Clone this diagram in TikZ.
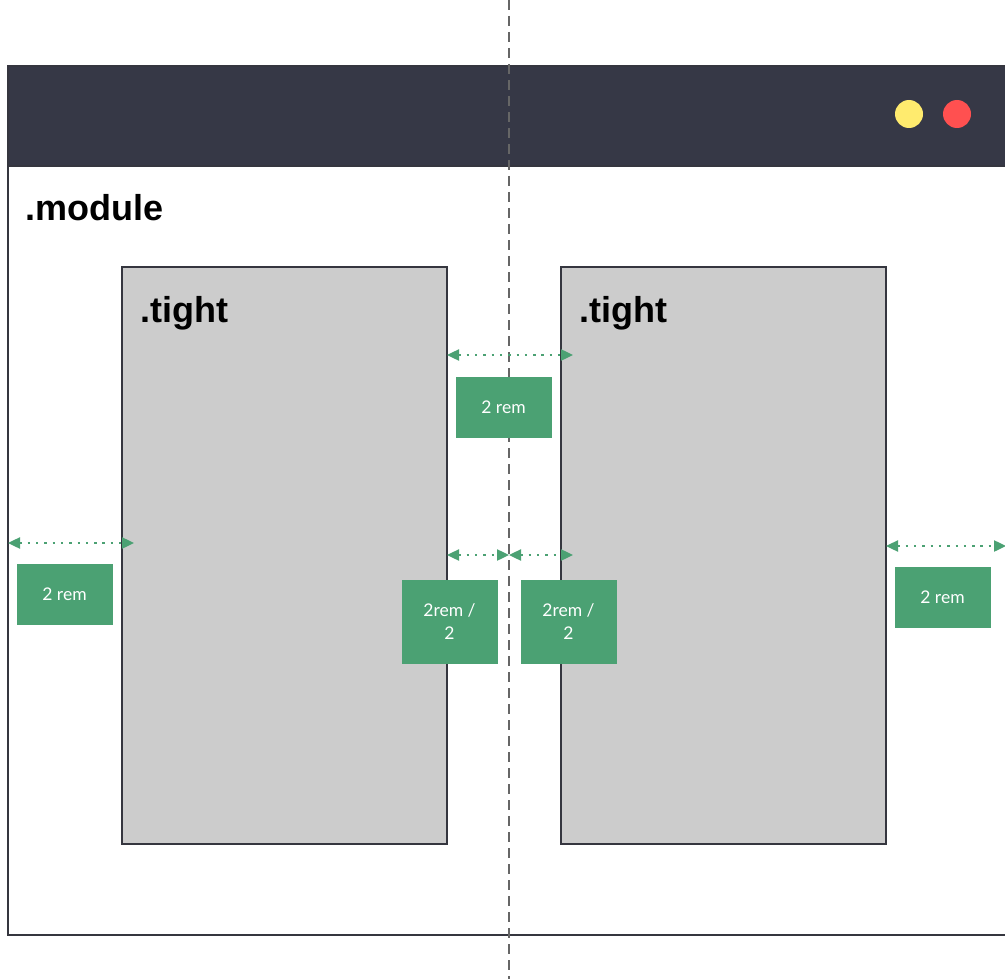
\documentclass[tikz,border=0pt]{standalone}
\usepackage{fontspec}
\setmainfont{Liberation Sans}
\newfontfamily\labelfont{Lato}
\usetikzlibrary{arrows.meta}
\definecolor{frameline}{HTML}{35363F}
\definecolor{titlebar}{HTML}{363846}
\definecolor{panel}{HTML}{CCCCCC}
\definecolor{gapgreen}{HTML}{4BA173}
\definecolor{dotyellow}{HTML}{FFEB6E}
\definecolor{dotred}{HTML}{FF5050}
\definecolor{guide}{HTML}{666666}
\tikzset{
  panelbox/.style={draw=frameline, line width=1.5pt, fill=panel, minimum width=325pt, minimum height=577pt, inner sep=0pt, outer sep=0pt},
  tag/.style={fill=gapgreen, text=white, font=\labelfont\fontsize{17.5}{23}\selectfont, minimum width=96pt, inner sep=0pt, align=center},
  gap/.style={draw=gapgreen, line width=2.4pt, dash pattern=on 2.4pt off 5.9pt, line cap=butt,
    {Triangle[length=12pt,width=11pt]}-{Triangle[length=12pt,width=11pt]}},
  heading/.style={font=\bfseries\fontsize{36}{40}\selectfont, anchor=base west, inner sep=0pt},
  winbtn/.style={circle, minimum size=28pt, inner sep=0pt},
}
\begin{document}
\begin{tikzpicture}[x=1pt,y=-1pt]
\useasboundingbox (0,0) rectangle (1005,979);
\clip (0,0) rectangle (1005,979);

% browser window with title bar
\fill[titlebar] (8,66) rectangle (1015,166);
\draw[frameline, line width=1.5pt] (8,66) rectangle (1015,935);
\draw[frameline, line width=1.5pt] (8,166) -- (1015,166);
\node[winbtn, fill=dotyellow] (yel) at (909,114) {};
\node[winbtn, fill=dotred] (red) at (957,114) {};

% module heading
\node[heading] (modtitle) at (25,221) {.module};

% the two .tight panels
\node[panelbox] (left) at (284.5,555.5) {};
\node[panelbox] (right) at (723.5,555.5) {};
\node[heading] (lt) at (140,322) {.tight};
\node[heading] (rt) at (579,322) {.tight};

% centre guide line
\coordinate (gtop) at (509,0);
\coordinate (gbot) at (509,979);
\draw[guide, line width=2pt, dash pattern=on 10pt off 6pt] (gtop) -- (gbot);

% gap measurements
\coordinate (a1) at (447,355); \coordinate (a2) at (573,355);
\draw[gap] (a1) -- (a2);
\node[tag, minimum height=61pt] (t1) at (503.5,407.5) {2 rem};

\coordinate (b1) at (8,543); \coordinate (b2) at (134,543);
\draw[gap] (b1) -- (b2);
\node[tag, minimum height=61pt] (t2) at (64.5,594.5) {2 rem};

\coordinate (c1) at (447,555); \coordinate (c2) at (509,555); \coordinate (c3) at (573,555);
\draw[gap] (c1) -- (c2);
\draw[gap] (c2) -- (c3);
\node[tag, minimum height=84pt] (t3) at (449.5,622) {2rem /\\2};
\node[tag, minimum height=84pt] (t4) at (568.5,622) {2rem /\\2};

\coordinate (d1) at (886,546); \coordinate (d2) at (1006,546);
\draw[gap] (d1) -- (d2);
\node[tag, minimum height=61pt] (t5) at (942.5,597.5) {2 rem};
\end{tikzpicture}
\end{document}
